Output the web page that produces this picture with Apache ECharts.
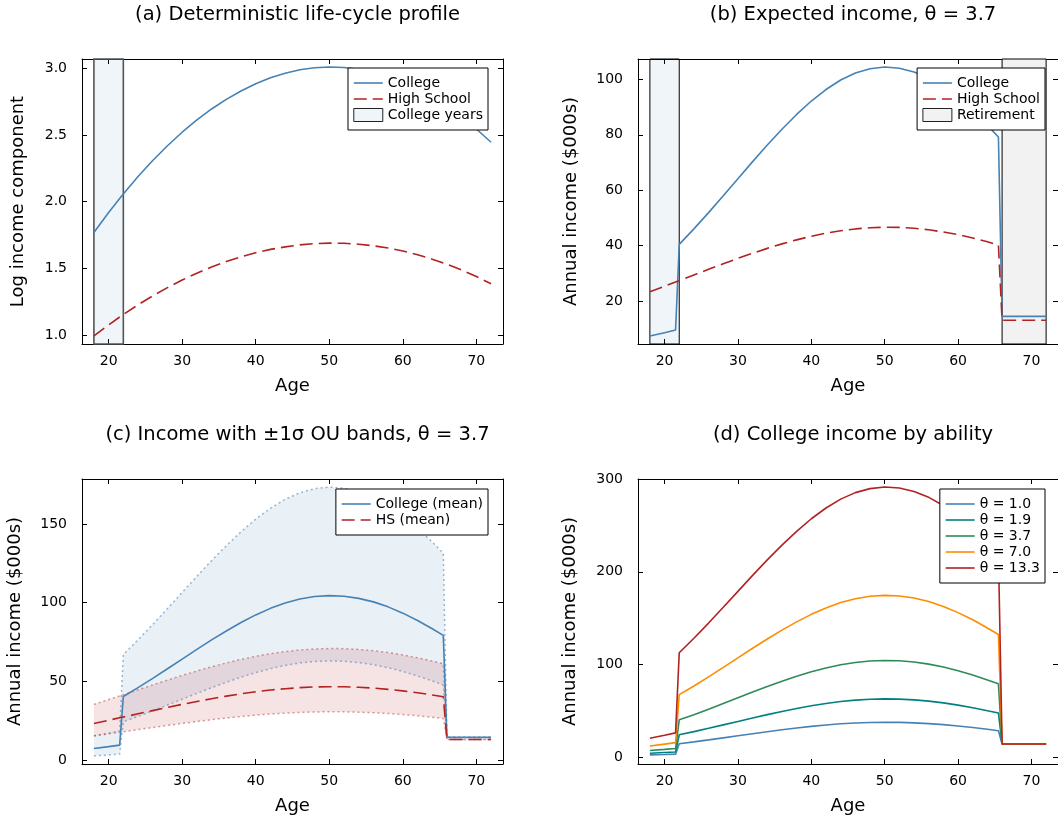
<!DOCTYPE html>
<html>
<head>
<meta charset="utf-8">
<script src="https://cdn.jsdelivr.net/npm/echarts@6/dist/echarts.min.js"></script>
<style>
  html, body { margin: 0; padding: 0; background: #fff; }
  #chart { width: 1058px; height: 822px; }
</style>
</head>
<body>
<div id="chart"></div>
<script>
// Ages sampled over the life cycle (extra points at 21.5 and 65.5 mark the regime switches)
const ages = [18, 20, 21.5, 22, 24, 26, 28, 30, 32, 34, 36, 38, 40, 42, 44, 46, 48, 50, 52, 54, 56, 58, 60, 62, 64, 65.5, 66, 68, 70, 72];

// (a) deterministic log income component
const logCollege = [1.770, 1.919, 2.024, 2.058, 2.188, 2.308, 2.419, 2.520, 2.612, 2.694, 2.766, 2.829, 2.883, 2.927, 2.962, 2.987, 3.002, 3.008, 3.004, 2.991, 2.969, 2.937, 2.895, 2.844, 2.783, 2.731, 2.713, 2.633, 2.544, 2.445];
const logHighSchool = [0.995, 1.078, 1.137, 1.156, 1.228, 1.295, 1.357, 1.414, 1.465, 1.511, 1.552, 1.587, 1.618, 1.643, 1.662, 1.677, 1.686, 1.690, 1.689, 1.682, 1.670, 1.653, 1.631, 1.603, 1.570, 1.542, 1.532, 1.489, 1.440, 1.386];

// (b) expected annual income, theta = 3.7 ($000s)
const incCollege = [7.34, 8.52, 9.46, 40.40, 46.01, 51.88, 57.97, 64.13, 70.31, 76.32, 82.01, 87.35, 92.20, 96.35, 99.78, 102.30, 103.85, 104.47, 104.06, 102.71, 100.48, 97.31, 93.31, 88.67, 83.42, 79.20, 14.4, 14.4, 14.4, 14.4];
const incHighSchool = [23.26, 25.28, 26.81, 27.32, 29.36, 31.40, 33.40, 35.36, 37.22, 38.97, 40.60, 42.05, 43.37, 44.47, 45.32, 46.00, 46.42, 46.60, 46.56, 46.23, 45.68, 44.91, 43.94, 42.72, 41.34, 40.20, 13.0, 13.0, 13.0, 13.0];

// (c) +/- 1 sigma OU bands
const collegeUpper = [15.5, 17.0, 18.6, 67.06, 76.38, 86.12, 96.23, 106.46, 116.71, 126.69, 136.14, 145.00, 153.05, 159.94, 165.63, 169.82, 172.39, 173.42, 172.74, 170.50, 166.80, 161.53, 154.89, 147.19, 138.48, 131.47, 14.4, 14.4, 14.4, 14.4];
const collegeLower = [2.6, 3.2, 3.8, 24.34, 27.72, 31.25, 34.92, 38.63, 42.36, 45.98, 49.40, 52.62, 55.54, 58.04, 60.11, 61.63, 62.56, 62.93, 62.69, 61.87, 60.53, 58.62, 56.21, 53.42, 50.25, 47.71, 14.4, 14.4, 14.4, 14.4];
const hsUpper = [35.36, 38.43, 40.75, 41.53, 44.63, 47.73, 50.77, 53.75, 56.57, 59.23, 61.71, 63.92, 65.92, 67.59, 68.89, 69.92, 70.56, 70.83, 70.77, 70.27, 69.43, 68.26, 66.79, 64.93, 62.84, 61.10, 13.0, 13.0, 13.0, 13.0];
const hsLower = [15.30, 16.63, 17.64, 17.97, 19.32, 20.66, 21.97, 23.26, 24.49, 25.64, 26.71, 27.66, 28.53, 29.26, 29.82, 30.26, 30.54, 30.66, 30.63, 30.41, 30.05, 29.55, 28.91, 28.11, 27.20, 26.45, 13.0, 13.0, 13.0, 13.0];

// (d) college income by ability theta
const thetaLabels = ['θ = 1.0', 'θ = 1.9', 'θ = 3.7', 'θ = 7.0', 'θ = 13.3'];
const theta10 = [2.66, 3.08, 3.42, 14.62, 16.66, 18.78, 20.99, 23.22, 25.45, 27.63, 29.69, 31.62, 33.38, 34.88, 36.12, 37.03, 37.59, 37.82, 37.67, 37.18, 36.37, 35.23, 33.78, 32.10, 30.20, 28.67, 14.4, 14.4, 14.4, 14.4];
const theta19 = [4.43, 5.14, 5.70, 24.36, 27.74, 31.28, 34.96, 38.67, 42.40, 46.02, 49.45, 52.67, 55.60, 58.10, 60.17, 61.69, 62.62, 63.00, 62.75, 61.93, 60.59, 58.68, 56.27, 53.47, 50.30, 47.76, 14.4, 14.4, 14.4, 14.4];
const theta37 = incCollege;
const theta70 = [12.27, 14.25, 15.82, 67.55, 76.93, 86.74, 96.93, 107.23, 117.56, 127.61, 137.12, 146.05, 154.16, 161.10, 166.83, 171.05, 173.64, 174.67, 173.99, 171.73, 168.00, 162.70, 156.01, 148.26, 139.48, 132.42, 14.4, 14.4, 14.4, 14.4];
const theta133 = [20.48, 23.77, 26.39, 112.72, 128.37, 144.75, 161.74, 178.92, 196.16, 212.93, 228.81, 243.71, 257.24, 268.82, 278.39, 285.42, 289.74, 291.47, 290.33, 286.56, 280.34, 271.49, 260.33, 247.39, 232.74, 220.97, 14.4, 14.4, 14.4, 14.4];

// Tick positions
const ageTicks = [20, 30, 40, 50, 60, 70];
const logTicks = [1.0, 1.5, 2.0, 2.5, 3.0];
const incTicksB = [20, 40, 60, 80, 100];
const incTicksC = [0, 50, 100, 150];
const incTicksD = [0, 100, 200, 300];

const FONT = 'DejaVu Sans';
const STEEL = '#4682b4';
const FIRE = '#b22222';
const thetaColors = ['#4682b4', '#008080', '#2e8b57', '#ff8c00', '#b22222'];
const DASH = [13, 6];
const DOT = [2, 3];

const pairs = ys => ages.map((a, i) => [a, ys[i]]);

// Panel layout: [left, top]
const panels = [[82, 59], [638, 59], [82, 479], [638, 479]];
const PW = 421, PH = 285;
const xRange = [16.38, 73.62];
const yRanges = [[0.935, 3.068], [4.43, 107.38], [-2.52, 178.54], [-7.2, 300.1]];
const yTicks = [logTicks, incTicksB, incTicksC, incTicksD];
const yNames = ['Log income component', 'Annual income ($000s)', 'Annual income ($000s)', 'Annual income ($000s)'];
const yNameGaps = [55, 58, 58, 59];

const axisLineStyle = { show: true, onZero: false, lineStyle: { color: '#000', width: 1 } };

const grids = panels.map(p => ({ left: p[0], top: p[1], width: PW, height: PH, show: false }));

const xAxes = [];
const yAxes = [];
panels.forEach((p, g) => {
  ['bottom', 'top'].forEach(pos => {
    const main = pos === 'bottom';
    xAxes.push({
      type: 'value', gridIndex: g, position: pos, min: xRange[0], max: xRange[1],
      name: main ? 'Age' : '', nameLocation: 'middle', nameGap: 33,
      nameTextStyle: { fontFamily: FONT, fontSize: 18, color: '#000' },
      axisLine: axisLineStyle,
      axisTick: { show: true, inside: true, length: 5, customValues: ageTicks, lineStyle: { color: '#000' } },
      axisLabel: { show: main, customValues: ageTicks, margin: 10, fontFamily: FONT, fontSize: 14, color: '#000' },
      splitLine: { show: false }
    });
  });
  ['left', 'right'].forEach(pos => {
    const main = pos === 'left';
    yAxes.push({
      type: 'value', gridIndex: g, position: pos, min: yRanges[g][0], max: yRanges[g][1],
      name: main ? yNames[g] : '', nameLocation: 'middle', nameGap: yNameGaps[g],
      nameTextStyle: { fontFamily: FONT, fontSize: 18, color: '#000' },
      axisLine: axisLineStyle,
      axisTick: { show: true, inside: true, length: 5, customValues: yTicks[g], lineStyle: { color: '#000' } },
      axisLabel: {
        show: main, customValues: yTicks[g], margin: 15, fontFamily: FONT, fontSize: 14, color: '#000',
        formatter: g === 0 ? (v => v.toFixed(1)) : (v => String(Math.round(v)))
      },
      splitLine: { show: false }
    });
  });
});

function line(name, g, ys, color, extra) {
  return Object.assign({
    name, type: 'line', xAxisIndex: g * 2, yAxisIndex: g * 2,
    data: pairs(ys), showSymbol: false, symbol: 'none', animation: false,
    lineStyle: { color, width: 1.6 }, itemStyle: { color }, z: 5
  }, extra || {});
}

function band(g, upper, lower, fill) {
  return {
    type: 'custom', xAxisIndex: g * 2, yAxisIndex: g * 2, silent: true, animation: false,
    data: [[ages[0], lower[0]]], z: 2, clip: true,
    renderItem: (params, api) => {
      const top = ages.map((a, i) => api.coord([a, upper[i]]));
      const bot = ages.map((a, i) => api.coord([a, lower[i]])).reverse();
      return { type: 'polygon', shape: { points: top.concat(bot) }, style: { fill } };
    }
  };
}

function span(from, to, fill, border, width) {
  return {
    silent: true,
    itemStyle: { color: fill, borderColor: border, borderWidth: width },
    data: [[{ xAxis: from }, { xAxis: to }]]
  };
}

const dashed = { lineStyle: { color: FIRE, width: 1.6, type: DASH } };

const series = [
  // (a)
  { name: 'College years', type: 'line', xAxisIndex: 0, yAxisIndex: 0, data: [], z: 1,
    markArea: span(18, 22, 'rgba(70,130,180,0.08)', '#555', 1.6) },
  line('College', 0, logCollege, STEEL),
  line('High School', 0, logHighSchool, FIRE, dashed),

  // (b)
  { name: 'Retirement', type: 'line', xAxisIndex: 2, yAxisIndex: 2, data: [], z: 1,
    markArea: span(66, 72, '#f2f2f2', '#000', 1) },
  line('College', 1, incCollege, STEEL, { markArea: span(18, 22, 'rgba(70,130,180,0.08)', '#000', 1) }),
  line('High School', 1, incHighSchool, FIRE, dashed),

  // (c)
  band(2, collegeUpper, collegeLower, 'rgba(70,130,180,0.12)'),
  band(2, hsUpper, hsLower, 'rgba(178,34,34,0.12)'),
  line('', 2, collegeUpper, 'rgba(70,130,180,0.55)', { lineStyle: { color: 'rgba(70,130,180,0.55)', width: 1.5, type: DOT }, z: 3, silent: true }),
  line('', 2, collegeLower, 'rgba(70,130,180,0.55)', { lineStyle: { color: 'rgba(70,130,180,0.55)', width: 1.5, type: DOT }, z: 3, silent: true }),
  line('', 2, hsUpper, 'rgba(178,34,34,0.45)', { lineStyle: { color: 'rgba(178,34,34,0.45)', width: 1.5, type: DOT }, z: 3, silent: true }),
  line('', 2, hsLower, 'rgba(178,34,34,0.45)', { lineStyle: { color: 'rgba(178,34,34,0.45)', width: 1.5, type: DOT }, z: 3, silent: true }),
  line('College (mean)', 2, incCollege, STEEL),
  line('HS (mean)', 2, incHighSchool, FIRE, dashed),

  // (d)
  ...[theta10, theta19, theta37, theta70, theta133].map((ys, k) =>
    line(thetaLabels[k], 3, ys, thetaColors[k], { z: 5 + k }))
];

const legendBase = {
  orient: 'vertical', itemWidth: 29, itemHeight: 13, itemGap: 2,
  padding: [8, 5, 8, 5], borderColor: '#000', borderWidth: 1, backgroundColor: '#fff',
  borderRadius: 0, selectedMode: false, z: 20,
  textStyle: { fontFamily: FONT, fontSize: 14, color: '#000' },
  lineStyle: { width: 1.6 }
};
const lineItem = name => ({ name, itemStyle: { opacity: 0 } });

const legends = [
  Object.assign({}, legendBase, { right: 570, top: 68, data: [
    lineItem('College'), lineItem('High School'),
    { name: 'College years', icon: 'rect', itemStyle: { color: 'rgba(70,130,180,0.08)', borderColor: '#222', borderWidth: 1 } }
  ] }),
  Object.assign({}, legendBase, { right: 13, top: 68, data: [
    lineItem('College'), lineItem('High School'),
    { name: 'Retirement', icon: 'rect', itemStyle: { color: '#f2f2f2', borderColor: '#222', borderWidth: 1 } }
  ] }),
  Object.assign({}, legendBase, { right: 570, top: 489, data: [lineItem('College (mean)'), lineItem('HS (mean)')] }),
  Object.assign({}, legendBase, { right: 13, top: 489, data: thetaLabels.map(lineItem) })
];

const titleStyle = { fontFamily: FONT, fontSize: 19.5, fontWeight: 'normal', color: '#000' };
const titles = [
  { text: '(a) Deterministic life-cycle profile', left: 292.5, top: 0 },
  { text: '(b) Expected income, θ = 3.7', left: 848, top: 0 },
  { text: '(c) Income with ±1σ OU bands, θ = 3.7', left: 292.5, top: 420 },
  { text: '(d) College income by ability', left: 848, top: 420 }
].map(t => Object.assign(t, { textAlign: 'center', textStyle: titleStyle }));

const chart = echarts.init(document.getElementById('chart'), null, { renderer: 'canvas' });
chart.setOption({
  backgroundColor: '#fff',
  animation: false,
  title: titles,
  legend: legends,
  grid: grids,
  xAxis: xAxes,
  yAxis: yAxes,
  series
});
</script>
</body>
</html>
